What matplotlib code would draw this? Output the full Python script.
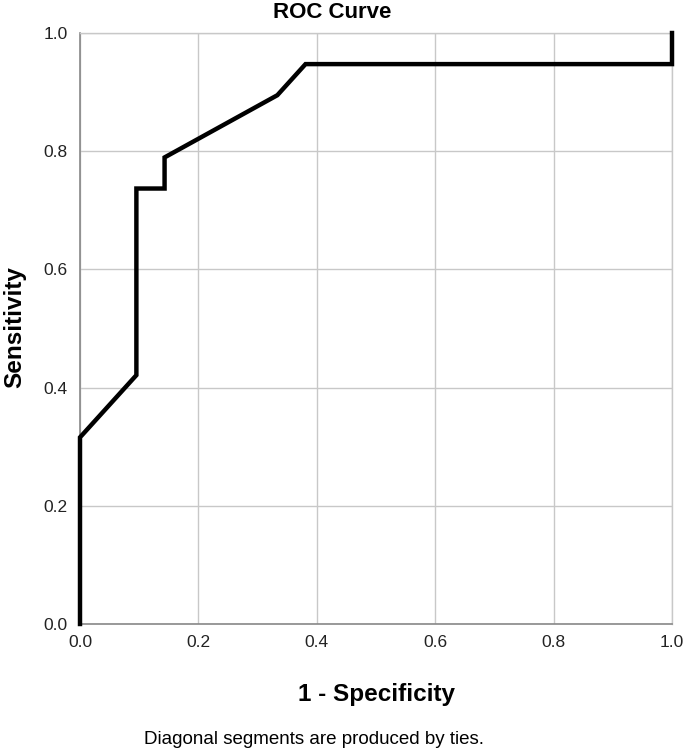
import matplotlib
matplotlib.use("Agg")
import matplotlib.pyplot as plt

fpr = [0.0, 0.0, 2/21, 2/21, 3/21, 3/21, 7/21, 8/21, 1.0, 1.0]
tpr = [0.0, 6/19, 8/19, 14/19, 14/19, 15/19, 17/19, 18/19, 18/19, 1.0]
ticks = [0.0, 0.2, 0.4, 0.6, 0.8, 1.0]
tick_labels = ["0.0", "0.2", "0.4", "0.6", "0.8", "1.0"]

plt.rcParams['font.family'] = ['Liberation Sans', 'DejaVu Sans']

fig = plt.figure(figsize=(6.85, 7.54), dpi=100)
ax = fig.add_axes([80/685, 1 - 624/754, 592/685, 591/754])
ax.plot(fpr, tpr, color='black', lw=3.2, solid_joinstyle='miter', clip_on=False, zorder=3)
ax.set_xlim(0, 1)
ax.set_ylim(0, 1)
ax.set_xticks(ticks)
ax.set_xticklabels(tick_labels)
ax.set_yticks(ticks)
ax.set_yticklabels(tick_labels)
ax.grid(True, color='#c8c8c8', lw=1.0)
ax.set_axisbelow(True)
for s in ['top', 'right']:
    ax.spines[s].set_color('#c8c8c8')
    ax.spines[s].set_linewidth(1.0)
for s in ['left', 'bottom']:
    ax.spines[s].set_color('#888888')
    ax.spines[s].set_linewidth(1.2)
ax.tick_params(length=0, labelsize=12.5, colors='#222222')
ax.tick_params(axis='x', pad=8)
ax.tick_params(axis='y', pad=9)
fig.text(332/685, 1 - 13/754, "ROC Curve", ha='center', va='center', fontsize=16, fontweight='bold')
ax.set_xlabel("1 - Specificity", fontsize=17.5, fontweight='bold', labelpad=24)
fig.text(15/685, 1 - 327/754, "Sensitivity", ha='center', va='center', rotation=90,
         fontsize=17.5, fontweight='bold')
fig.text(314/685, 1 - 740/754, "Diagonal segments are produced by ties.", ha='center', va='center', fontsize=13.5)
fig.savefig("out.png", dpi=100)
